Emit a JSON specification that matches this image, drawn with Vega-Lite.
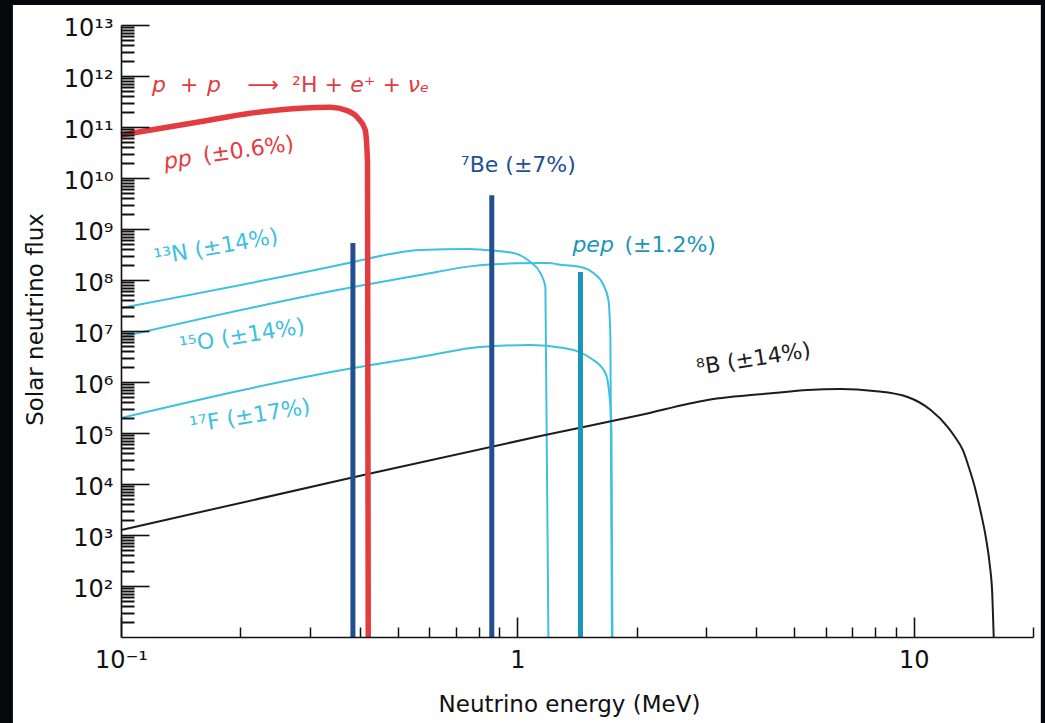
{
  "$schema": "https://vega.github.io/schema/vega-lite/v6.json",
  "width": 912,
  "height": 612,
  "autosize": {"type": "none"},
  "padding": {"left": 121, "top": 25, "right": 12, "bottom": 86},
  "background": "#04070b",
  "config": {
    "view": {"stroke": null},
    "axis": {
      "grid": false, "zindex": 1,
      "domainColor": "#111111", "tickColor": "#111111", "labelColor": "#111111", "titleColor": "#111111",
      "labelFont": "DejaVu Sans", "titleFont": "DejaVu Sans", "titleFontWeight": "normal",
      "labelFontSize": 24, "titleFontSize": 23, "labelFlush": false, "labelOverlap": false,
      "domainWidth": 1.6, "tickWidth": 1.6
    },
    "text": {"font": "DejaVu Sans", "fontSize": 22}
  },
  "datasets": {
    "panel": [{"panel": "white"}],
    "curves": [
      {"series": "pp", "E": 0.1, "F": 6.97e10},
      {"series": "pp", "E": 0.1583, "F": 1.27e11},
      {"series": "pp", "E": 0.2118, "F": 1.86e11},
      {"series": "pp", "E": 0.2831, "F": 2.33e11},
      {"series": "pp", "E": 0.3372, "F": 2.43e11},
      {"series": "pp", "E": 0.3721, "F": 2.09e11},
      {"series": "pp", "E": 0.3967, "F": 1.48e11},
      {"series": "pp", "E": 0.4132, "F": 8.7e10},
      {"series": "pp", "E": 0.4188, "F": 1.97e10},
      {"series": "pp", "E": 0.4205, "F": 10},
      {"series": "13N", "E": 0.1, "F": 2.83e7},
      {"series": "13N", "E": 0.3854, "F": 2.25e8},
      {"series": "13N", "E": 0.4778, "F": 3.24e8},
      {"series": "13N", "E": 0.569, "F": 3.88e8},
      {"series": "13N", "E": 0.761, "F": 4.05e8},
      {"series": "13N", "E": 0.8064, "F": 3.95e8},
      {"series": "13N", "E": 0.977, "F": 3.38e8},
      {"series": "13N", "E": 1.0785, "F": 2.25e8},
      {"series": "13N", "E": 1.1433, "F": 1.37e8},
      {"series": "13N", "E": 1.1771, "F": 7.3e7},
      {"series": "13N", "E": 1.1978, "F": 10},
      {"series": "15O", "E": 0.1, "F": 7.62e6},
      {"series": "15O", "E": 0.3854, "F": 7.3e7},
      {"series": "15O", "E": 0.569, "F": 1.25e8},
      {"series": "15O", "E": 0.761, "F": 1.85e8},
      {"series": "15O", "E": 1.0, "F": 2.12e8},
      {"series": "15O", "E": 1.19, "F": 2.15e8},
      {"series": "15O", "E": 1.3, "F": 1.97e8},
      {"series": "15O", "E": 1.4425, "F": 1.8e8},
      {"series": "15O", "E": 1.5555, "F": 1.37e8},
      {"series": "15O", "E": 1.6489, "F": 8.0e7},
      {"series": "15O", "E": 1.6975, "F": 4.06e7},
      {"series": "15O", "E": 1.7173, "F": 6.7e6},
      {"series": "15O", "E": 1.7325, "F": 10},
      {"series": "17F", "E": 0.1, "F": 1.97e5},
      {"series": "17F", "E": 0.3854, "F": 1.88e6},
      {"series": "17F", "E": 0.569, "F": 3.09e6},
      {"series": "17F", "E": 0.8064, "F": 4.85e6},
      {"series": "17F", "E": 1.0785, "F": 5.31e6},
      {"series": "17F", "E": 1.3066, "F": 4.64e6},
      {"series": "17F", "E": 1.5284, "F": 2.96e6},
      {"series": "17F", "E": 1.6681, "F": 1.5e6},
      {"series": "17F", "E": 1.7077, "F": 5.56e5},
      {"series": "17F", "E": 1.7275, "F": 1.15e5},
      {"series": "17F", "E": 1.7376, "F": 10},
      {"series": "8B", "E": 0.1, "F": 1250},
      {"series": "8B", "E": 0.3787, "F": 1.31e4},
      {"series": "8B", "E": 1.1433, "F": 8.73e4},
      {"series": "8B", "E": 2.045, "F": 2.25e5},
      {"series": "8B", "E": 3.018, "F": 4.44e5},
      {"series": "8B", "E": 4.432, "F": 6.08e5},
      {"series": "8B", "E": 5.4, "F": 6.97e5},
      {"series": "8B", "E": 6.54, "F": 7.29e5},
      {"series": "8B", "E": 7.93, "F": 6.67e5},
      {"series": "8B", "E": 9.65, "F": 5.08e5},
      {"series": "8B", "E": 11.04, "F": 2.82e5},
      {"series": "8B", "E": 12.19, "F": 1.31e5},
      {"series": "8B", "E": 12.765, "F": 7.98e4},
      {"series": "8B", "E": 13.3, "F": 4.65e4},
      {"series": "8B", "E": 13.77, "F": 2.15e4},
      {"series": "8B", "E": 14.26, "F": 8730},
      {"series": "8B", "E": 14.76, "F": 2825},
      {"series": "8B", "E": 15.2, "F": 914},
      {"series": "8B", "E": 15.56, "F": 258},
      {"series": "8B", "E": 15.79, "F": 66.7},
      {"series": "8B", "E": 15.92, "F": 10}
    ],
    "lines": [
      {"series": "7Be", "E": 0.3847, "F": 5.3e8},
      {"series": "7Be", "E": 0.862, "F": 4.6e9},
      {"series": "pep", "E": 1.443, "F": 1.44e8}
    ],
    "labels": [
      {"id": "eq-p1", "series": "pp", "text": "p", "E": 0.11976, "F": 4.857e11},
      {"id": "eq-plus1", "series": "pp", "text": "+", "E": 0.14093, "F": 4.857e11},
      {"id": "eq-p2", "series": "pp", "text": "p", "E": 0.1649, "F": 4.857e11},
      {"id": "eq-arrow", "series": "pp", "text": "⟶", "E": 0.22837, "F": 4.857e11},
      {"id": "eq-h", "series": "pp", "text": "²H +", "E": 0.27022, "F": 4.857e11},
      {"id": "eq-e", "series": "pp", "text": "e⁺ + νₑ", "E": 0.37883, "F": 4.857e11},
      {"id": "pp-a", "series": "pp", "text": "pp", "E": 0.12915, "F": 1.501e10},
      {"id": "pp-b", "series": "pp", "text": "(±0.6%)", "E": 0.16207, "F": 1.968e10},
      {"id": "be7", "series": "7Be", "text": "⁷Be (±7%)", "E": 1.0058, "F": 1.798e10},
      {"id": "pep-a", "series": "pep", "text": "pep", "E": 1.3769, "F": 3.54e8},
      {"id": "pep-b", "series": "pep", "text": "(±1.2%)", "E": 1.8629, "F": 3.54e8},
      {"id": "n13", "series": "13N", "text": "¹³N (±14%)", "E": 0.17374, "F": 4.437e8},
      {"id": "o15", "series": "15O", "text": "¹⁵O (±14%)", "E": 0.20208, "F": 7.98e6},
      {"id": "f17", "series": "17F", "text": "¹⁷F (±17%)", "E": 0.21169, "F": 2.154e5},
      {"id": "b8", "series": "8B", "text": "⁸B (±14%)", "E": 3.9445, "F": 2.825e6}
    ]
  },
  "layer": [
    {
      "data": {"name": "panel"},
      "mark": {"type": "rect", "fill": "#ffffff", "clip": false},
      "encoding": {
        "x": {"datum": 0.05337, "type": "quantitative", "scale": {"type": "log", "domain": [0.1, 20], "nice": false}, "axis": null},
        "x2": {"datum": 20.93},
        "y": {"datum": 2.47e13, "type": "quantitative", "scale": {"type": "log", "domain": [10, 1e13], "nice": false}, "axis": null},
        "y2": {"datum": 0.1}
      }
    },
    {
      "data": {"name": "curves"},
      "transform": [{"filter": {"field": "series", "oneOf": ["13N", "15O", "17F", "8B"]}}],
      "mark": {"type": "line", "interpolate": "monotone", "strokeWidth": 2},
      "encoding": {
        "x": {"field": "E", "type": "quantitative", "scale": {"type": "log", "domain": [0.1, 20], "nice": false},
          "axis": {"orient": "bottom", "zindex": 2, "values": [0.1, 1, 10], "tickSize": -20, "labelPadding": 31,
            "labelExpr": "datum.value < 0.5 ? '10⁻¹' : datum.value < 5 ? '1' : '10'",
            "title": "Neutrino energy (MeV)", "titleX": 448, "titleY": 74, "titleBaseline": "alphabetic", "titleAlign": "center"}},
        "y": {"field": "F", "type": "quantitative", "scale": {"type": "log", "domain": [10, 1e13], "nice": false},
          "axis": {"orient": "left", "zindex": 2, "values": [1e2, 1e3, 1e4, 1e5, 1e6, 1e7, 1e8, 1e9, 1e10, 1e11, 1e12, 1e13],
            "tickSize": -28, "labelPadding": 36, "labelOffset": 3,
            "labelExpr": "['','10¹','10²','10³','10⁴','10⁵','10⁶','10⁷','10⁸','10⁹','10¹⁰','10¹¹','10¹²','10¹³'][round(log(datum.value)/LN10)]",
            "title": "Solar neutrino flux", "titleX": -86, "titleY": 294, "titleAngle": 270, "titleBaseline": "middle", "titleAlign": "center"}},
        "color": {"field": "series", "type": "nominal",
          "scale": {"domain": ["pp", "7Be", "pep", "13N", "15O", "17F", "8B"], "range": ["#e33b40", "#214f90", "#1b95b8", "#3ec0e1", "#3ec0e1", "#3ec0e1", "#1c1c1c"]},
          "legend": null}
      }
    },
    {
      "data": {"name": "curves"},
      "transform": [{"filter": {"field": "series", "equal": "pp"}}],
      "mark": {"type": "line", "interpolate": "monotone", "strokeWidth": 5.5},
      "encoding": {
        "x": {"field": "E", "type": "quantitative", "scale": {"type": "log", "domain": [0.1, 20], "nice": false}, "axis": null},
        "y": {"field": "F", "type": "quantitative", "scale": {"type": "log", "domain": [10, 1e13], "nice": false}, "axis": null},
        "color": {"field": "series", "type": "nominal", "legend": null}
      }
    },
    {
      "data": {"name": "lines"},
      "mark": {"type": "rule", "strokeWidth": 5},
      "encoding": {
        "x": {"field": "E", "type": "quantitative", "scale": {"type": "log", "domain": [0.1, 20], "nice": false},
          "axis": {"orient": "top", "zindex": 2, "offset": -612, "values": [0.2, 0.3, 0.4, 0.5, 0.6, 0.7, 0.8, 0.9, 2, 3, 4, 5, 6, 7, 8, 9, 20],
            "tickSize": 10, "labels": false, "domain": false, "title": null, "tickWidth": 1.5}},
        "y": {"field": "F", "type": "quantitative", "scale": {"type": "log", "domain": [10, 1e13], "nice": false},
          "axis": {"orient": "right", "zindex": 2, "offset": -912, "tickSize": 13, "labels": false, "domain": false, "title": null, "tickWidth": 2,
            "values": [2e1,3e1,4e1,5e1,6e1,7e1,8e1,9e1,2e2,3e2,4e2,5e2,6e2,7e2,8e2,9e2,2e3,3e3,4e3,5e3,6e3,7e3,8e3,9e3,2e4,3e4,4e4,5e4,6e4,7e4,8e4,9e4,2e5,3e5,4e5,5e5,6e5,7e5,8e5,9e5,2e6,3e6,4e6,5e6,6e6,7e6,8e6,9e6,2e7,3e7,4e7,5e7,6e7,7e7,8e7,9e7,2e8,3e8,4e8,5e8,6e8,7e8,8e8,9e8,2e9,3e9,4e9,5e9,6e9,7e9,8e9,9e9,2e10,3e10,4e10,5e10,6e10,7e10,8e10,9e10,2e11,3e11,4e11,5e11,6e11,7e11,8e11,9e11,2e12,3e12,4e12,5e12,6e12,7e12,8e12,9e12]}},
        "y2": {"datum": 10},
        "color": {"field": "series", "type": "nominal", "legend": null}
      }
    },
    {
      "data": {"name": "labels"},
      "transform": [{"filter": {"field": "id", "oneOf": ["eq-p1", "eq-p2", "eq-e", "pep-a"]}}],
      "mark": {"type": "text", "fontStyle": "italic", "align": "left", "baseline": "alphabetic", "fontSize": 22},
      "encoding": {
        "x": {"field": "E", "type": "quantitative", "axis": null},
        "y": {"field": "F", "type": "quantitative", "axis": null},
        "text": {"field": "text"},
        "color": {"field": "series", "type": "nominal", "legend": null}
      }
    },
    {
      "data": {"name": "labels"},
      "transform": [{"filter": {"field": "id", "oneOf": ["eq-plus1", "eq-h", "pep-b"]}}],
      "mark": {"type": "text", "align": "left", "baseline": "alphabetic", "fontSize": 22},
      "encoding": {
        "x": {"field": "E", "type": "quantitative", "axis": null},
        "y": {"field": "F", "type": "quantitative", "axis": null},
        "text": {"field": "text"},
        "color": {"field": "series", "type": "nominal", "legend": null}
      }
    },
    {
      "data": {"name": "labels"},
      "transform": [{"filter": {"field": "id", "equal": "eq-arrow"}}],
      "mark": {"type": "text", "align": "center", "baseline": "alphabetic", "fontSize": 22},
      "encoding": {
        "x": {"field": "E", "type": "quantitative", "axis": null},
        "y": {"field": "F", "type": "quantitative", "axis": null},
        "text": {"field": "text"},
        "color": {"field": "series", "type": "nominal", "legend": null}
      }
    },
    {
      "data": {"name": "labels"},
      "transform": [{"filter": {"field": "id", "equal": "pp-a"}}],
      "mark": {"type": "text", "fontStyle": "italic", "align": "left", "baseline": "alphabetic", "fontSize": 22, "angle": 352},
      "encoding": {
        "x": {"field": "E", "type": "quantitative", "axis": null},
        "y": {"field": "F", "type": "quantitative", "axis": null},
        "text": {"field": "text"},
        "color": {"field": "series", "type": "nominal", "legend": null}
      }
    },
    {
      "data": {"name": "labels"},
      "transform": [{"filter": {"field": "id", "equal": "pp-b"}}],
      "mark": {"type": "text", "align": "left", "baseline": "alphabetic", "fontSize": 22, "angle": 352},
      "encoding": {
        "x": {"field": "E", "type": "quantitative", "axis": null},
        "y": {"field": "F", "type": "quantitative", "axis": null},
        "text": {"field": "text"},
        "color": {"field": "series", "type": "nominal", "legend": null}
      }
    },
    {
      "data": {"name": "labels"},
      "transform": [{"filter": {"field": "id", "equal": "be7"}}],
      "mark": {"type": "text", "align": "center", "baseline": "middle", "fontSize": 22},
      "encoding": {
        "x": {"field": "E", "type": "quantitative", "axis": null},
        "y": {"field": "F", "type": "quantitative", "axis": null},
        "text": {"field": "text"},
        "color": {"field": "series", "type": "nominal", "legend": null}
      }
    },
    {
      "data": {"name": "labels"},
      "transform": [{"filter": {"field": "id", "equal": "n13"}}],
      "mark": {"type": "text", "align": "center", "baseline": "middle", "fontSize": 22, "angle": 350},
      "encoding": {
        "x": {"field": "E", "type": "quantitative", "axis": null},
        "y": {"field": "F", "type": "quantitative", "axis": null},
        "text": {"field": "text"},
        "color": {"field": "series", "type": "nominal", "legend": null}
      }
    },
    {
      "data": {"name": "labels"},
      "transform": [{"filter": {"field": "id", "oneOf": ["o15", "f17", "b8"]}}],
      "mark": {"type": "text", "align": "center", "baseline": "middle", "fontSize": 22, "angle": 351},
      "encoding": {
        "x": {"field": "E", "type": "quantitative", "axis": null},
        "y": {"field": "F", "type": "quantitative", "axis": null},
        "text": {"field": "text"},
        "color": {"field": "series", "type": "nominal", "legend": null}
      }
    }
  ]
}
